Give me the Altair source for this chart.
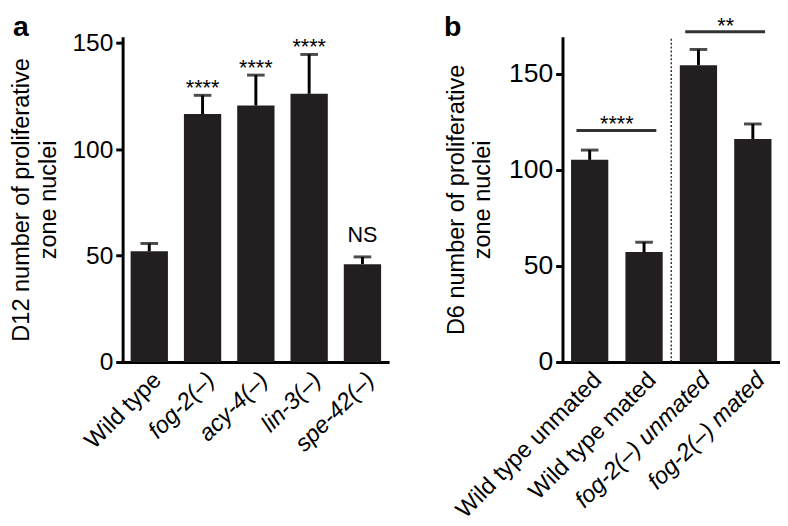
import altair as alt
import pandas as pd

FONT = "Liberation Sans"
BAR = "#231f20"

# Panel a data
a_cats = ["Wild type", "fog-2(–)", "acy-4(–)", "lin-3(–)", "spe-42(–)"]
a_means = [52, 116.5, 120.5, 126, 46]
a_err_top = [55.7, 125.3, 134.8, 144.5, 49.4]
a_sig = ["", "****", "****", "****", "NS"]

# Panel b data
b_cats = ["Wild type unmated", "Wild type mated", "fog-2(–) unmated", "fog-2(–) mated"]
b_means = [105.3, 57.3, 154.6, 116.2]
b_err_top = [110.4, 62.4, 162.8, 124.0]
b_pair_left = ["Wild type unmated", "fog-2(–) unmated"]
b_pair_right = ["Wild type mated", "fog-2(–) mated"]
b_pair_y = [120.6, 172.0]
b_pair_sig = ["****", "**"]

a_top = 152.8
b_top = 169.4

a_df = pd.DataFrame({"cat": a_cats, "mean": a_means, "err": a_err_top, "sig": a_sig})
b_df = pd.DataFrame({"cat": b_cats, "mean": b_means, "err": b_err_top})
br_df = pd.DataFrame({"cat": b_pair_left, "cat2": b_pair_right, "y": b_pair_y, "sig": b_pair_sig})
div_df = pd.DataFrame({"cat": [b_cats[2]], "y0": [0], "y1": [b_top]})

H = 332
LBL = 24


def xa():
    return alt.X("cat:N",
                 scale=alt.Scale(domain=a_cats, paddingInner=0.3, paddingOuter=0.15),
                 axis=alt.Axis(title=None, labelAngle=-45, labelFontSize=LBL, ticks=False,
                               labelPadding=6, labelLimit=400,
                               labelFontStyle={"condition": {"test": "datum.value == 'Wild type'", "value": "normal"},
                                               "value": "italic"}))


def ya(field):
    return alt.Y(field, scale=alt.Scale(domain=[0, a_top], nice=False, zero=True),
                 axis=alt.Axis(values=[0, 50, 100, 150],
                               title=["D12 number of proliferative", "zone nuclei"],
                               titleFontSize=24, titleFontWeight="normal", titleLineHeight=27,
                               labelFontSize=25, tickSize=7, titlePadding=12, labelPadding=3))


base_a = alt.Chart(a_df)
bars_a = base_a.mark_bar(color=BAR).encode(x=xa(), y=ya("mean:Q"))
err_a = base_a.mark_rule(color="black", strokeWidth=3).encode(x=xa(), y=ya("mean:Q"), y2="err:Q")
cap_a = base_a.mark_tick(color="black", size=18, thickness=3).encode(x=xa(), y=ya("err:Q"))
stars_a = base_a.transform_filter("datum.sig == '****'").mark_text(
    fontSize=22, baseline="alphabetic", color="black").encode(x=xa(), y=ya("err:Q"), text="sig:N")
ns_a = base_a.transform_filter("datum.sig == 'NS'").mark_text(
    fontSize=22, baseline="alphabetic", dy=-15, color="black").encode(x=xa(), y=ya("err:Q"), text="sig:N")
letter_a = alt.Chart(pd.DataFrame({"t": ["a"]})).mark_text(
    fontSize=29, fontWeight="bold", align="left", baseline="alphabetic", color="black").encode(
    x=alt.value(-112), y=alt.value(-1), text="t:N")

panel_a = alt.layer(bars_a, err_a, cap_a, stars_a, ns_a, letter_a).properties(width=272, height=H)


def xb():
    return alt.X("cat:N",
                 scale=alt.Scale(domain=b_cats, paddingInner=0.315, paddingOuter=0.157),
                 axis=alt.Axis(title=None, labelAngle=-45, labelFontSize=LBL, ticks=False,
                               labelPadding=6, labelLimit=400,
                               labelFontStyle={"condition": {"test": "indexof(datum.value, 'fog') >= 0", "value": "italic"},
                                               "value": "normal"}))


def yb(field):
    return alt.Y(field, scale=alt.Scale(domain=[0, b_top], nice=False, zero=True),
                 axis=alt.Axis(values=[0, 50, 100, 150],
                               title=["D6 number of proliferative", "zone nuclei"],
                               titleFontSize=24, titleFontWeight="normal", titleLineHeight=27,
                               labelFontSize=27, tickSize=7, titlePadding=14, labelPadding=3))


base_b = alt.Chart(b_df)
bars_b = base_b.mark_bar(color=BAR).encode(x=xb(), y=yb("mean:Q"))
err_b = base_b.mark_rule(color="black", strokeWidth=3).encode(x=xb(), y=yb("mean:Q"), y2="err:Q")
cap_b = base_b.mark_tick(color="black", size=18, thickness=3).encode(x=xb(), y=yb("err:Q"))
div_b = alt.Chart(div_df).mark_rule(color="#333333", strokeWidth=1.5, strokeDash=[2, 2], xOffset=-27.75).encode(
    x=xb(), y=yb("y0:Q"), y2="y1:Q")
br_b = alt.Chart(br_df).mark_rule(color="#333333", strokeWidth=3, xOffset=-13.5, x2Offset=12.5).encode(
    x=xb(), x2="cat2:N", y=yb("y:Q"))
brt_b = alt.Chart(br_df).mark_text(fontSize=22, baseline="alphabetic", dx=27.75, dy=1, color="black").encode(
    x=xb(), y=yb("y:Q"), text="sig:N")
letter_b = alt.Chart(pd.DataFrame({"t": ["b"]})).mark_text(
    fontSize=29, fontWeight="bold", align="left", baseline="alphabetic", color="black").encode(
    x=alt.value(-121), y=alt.value(-1), text="t:N")

panel_b = alt.layer(bars_b, err_b, cap_b, div_b, br_b, brt_b, letter_b).properties(width=222, height=H)

chart = alt.hconcat(panel_a, panel_b, spacing=177, bounds="flush").properties(
    padding={"left": 2, "top": 0, "right": 0, "bottom": 0}
).configure_view(stroke=None).configure_axis(
    domainColor="black", domainWidth=3, tickColor="black", tickWidth=3,
    labelColor="black", titleColor="black", grid=False,
    labelFont=FONT, titleFont=FONT
).configure_text(font=FONT)

chart.save("out.html", embed_options={"renderer": "svg", "actions": False})
